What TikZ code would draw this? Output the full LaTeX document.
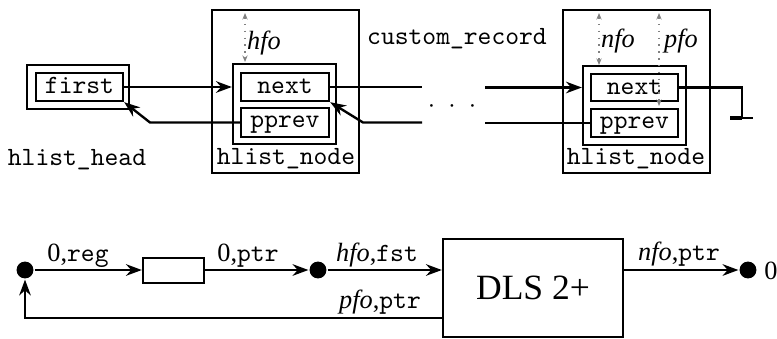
\documentclass[tikz,border=0pt]{standalone}
\usepackage{fontspec}
\setmainfont{Liberation Serif}
\usetikzlibrary{arrows.meta,fit,calc}
\begin{document}
\begin{tikzpicture}[x=0.38pt,y=-0.38pt, line width=0.9pt,
  box/.style={draw, inner sep=0pt, line width=0.9pt},
  ttl/.style={font=\ttfamily, inner sep=0pt},
  tip/.style={-{Stealth[length=6pt,width=4.4pt]}},
  dim/.style={gray, dotted, line width=0.6pt, {Stealth[length=2.5pt,width=2pt]}-{Stealth[length=2.5pt,width=2pt]}},
  dot/.style={circle, fill, inner sep=0pt, minimum size=6.4pt}]
\useasboundingbox (0,0) rectangle (777,339);
% ---- hlist_head
\node[box, fit={(27,65) (129,109)}] (head) {};
\node[box, fit={(36,73) (123,101)}] (first) {};
\node[ttl, anchor=base] (tfirst) at (79.5,93) {first};
\node[ttl, anchor=base] (lhead) at (77,165) {hlist\_head};
% ---- first hlist_node
\node[box, fit={(212,10) (359,173)}] (n1) {};
\node[box, fit={(233,64) (336,144)}] (c1) {};
\node[box, fit={(241,73) (329,101)}] (nx1) {};
\node[box, fit={(241,108) (329,137)}] (pv1) {};
\node[ttl, anchor=base] (tnx1) at (285,93) {next};
\node[ttl, anchor=base] (tpv1) at (285,127) {pprev};
\node[ttl, anchor=base] (l1) at (286,164) {hlist\_node};
\draw[dim] (245,13) -- (245,62);
\node[anchor=base] (hfo) at (264,50) {\textit{hfo}};
\node[ttl, anchor=base] (cr) at (457,44) {custom\_record};
% ---- second hlist_node
\node[box, fit={(563,10) (710,173)}] (n2) {};
\node[box, fit={(583,66) (686,145)}] (c2) {};
\node[box, fit={(591,74) (678,101)}] (nx2) {};
\node[box, fit={(591,109) (678,137)}] (pv2) {};
\node[ttl, anchor=base] (tnx2) at (634.5,94) {next};
\node[ttl, anchor=base] (tpv2) at (634.5,128) {pprev};
\node[ttl, anchor=base] (l2) at (636,164) {hlist\_node};
\draw[dim] (599,13) -- (599,65);
\draw[dim] (659,13) -- (659,106);
\node[anchor=base] (nfo) at (618,47) {\textit{nfo}};
\node[anchor=base] (pfo) at (681,47) {\textit{pfo}};
% ---- links
\draw[tip] (first.east) -- (c1.west |- first.east);
\draw[tip] (pv1.west) -- (150,122.5) -- (first.south east);
\coordinate (a1) at (422,87);
\coordinate (b1) at (422,122.5);
\draw (nx1.east) -- (a1);
\draw[tip] (b1) -- (363,122.5) -- (nx1.south east);
\node (dots) at (452,107) {$\cdot\;\cdot\;\cdot$};
\coordinate (a2) at (485,87.5);
\coordinate (b2) at (485,123);
\draw[tip] (a2) -- (c2.west |- a2);
\draw (b2) -- (pv2.west);
\coordinate (g) at (742,118);
\draw (nx2.east) -| (g);
\draw (730,118) -- (753,118);
\draw[line width=1.6pt] (730,118) -- (742,118);
% ---- bottom
\node[dot] (d1) at (25,270) {};
\node[box, fit={(143,258) (204,283)}] (reg) {};
\node[dot] (d2) at (318,270) {};
\node[box, fit={(443,239) (623,337)}] (dls) {};
\node[font=\fontsize{13.5}{16}\selectfont] (tdls) at (dls.center) {DLS 2+};
\node[dot] (d3) at (748,270) {};
\node (zero) at (771,271) {0};
\coordinate (fb) at (25,318);
\draw[tip] (d1) -- (reg.west |- d1);
\draw[tip] (reg.east |- d2) -- (d2);
\draw[tip] (d2) -- (dls.west |- d2);
\draw[tip] (dls.east |- d3) -- (d3);
\draw[tip] (dls.west |- fb) -- (fb) -- (d1.south);
\node[anchor=base] (lreg) at (78,261) {0,\texttt{reg}};
\node[anchor=base] (lptr) at (248,261) {0,\texttt{ptr}};
\node[anchor=base] (lfst) at (377,261) {\textit{hfo},\texttt{fst}};
\node[anchor=base] (lpfo) at (380,308) {\textit{pfo},\texttt{ptr}};
\node[anchor=base] (lnfo) at (679,260) {\textit{nfo},\texttt{ptr}};
\end{tikzpicture}
\end{document}
